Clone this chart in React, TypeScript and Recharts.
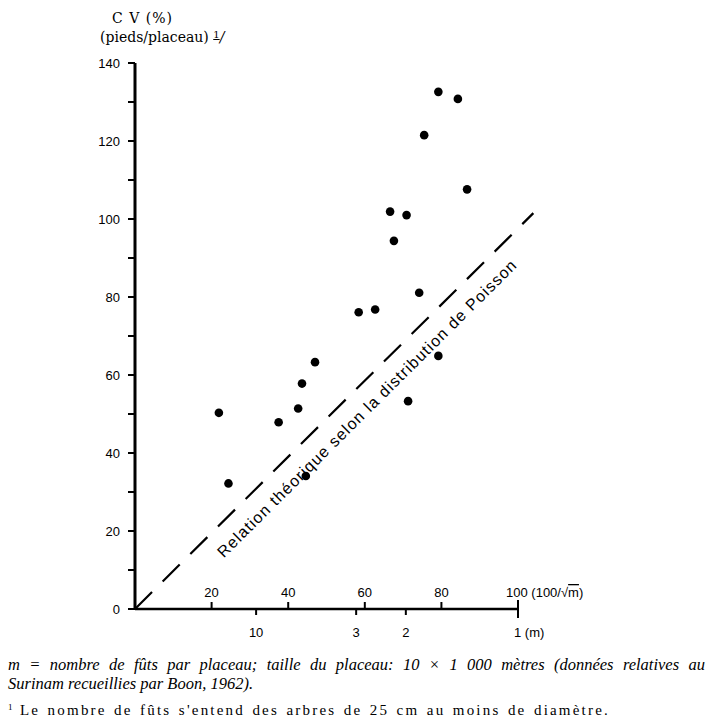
import React from "react";
import { ComposedChart, ReferenceLine, Scatter, XAxis, YAxis } from "recharts";

// coefficient of variation per plot (x = 100/sqrt(m), y = CV %)
const cvX = [21.9, 24.4, 37.5, 42.6, 43.6, 44.6, 47.0, 58.4, 62.7, 66.6, 67.6, 70.9, 71.3, 74.2, 75.5, 79.2, 79.2, 84.3, 86.7];
const cvY = [50.3, 32.2, 47.9, 51.4, 57.8, 34.1, 63.3, 76.1, 76.8, 101.9, 94.4, 101.0, 53.3, 81.1, 121.5, 132.6, 64.9, 130.8, 107.6];

// theoretical Poisson relation, drawn as a dashed segment
const poissonX = [0, 104];
const poissonY = [0, 101.5];

const yTicks = [0, 10, 20, 30, 40, 50, 60, 70, 80, 90, 100, 110, 120, 130, 140];
const upperTicks = [20, 40, 60, 80, 100];
const upperLabels = ["20", "40", "60", "80", "100"];
const mTicks = [31.62, 57.74, 70.71, 100];
const mLabels = ["10", "3", "2", "1 (m)"];

const allTicks = Array.from(new Set([...upperTicks, ...mTicks])).sort((a, b) => a - b);

const points = cvX.map((x, i) => ({ x, y: cvY[i] }));

const tickFont = "'Liberation Sans', Arial, sans-serif";
const serifFont = "'Liberation Serif', 'Times New Roman', serif";

const XTick = (props: any) => {
  const { x, y, payload } = props;
  const v = payload.value;
  const ui = upperTicks.indexOf(v);
  const mi = mTicks.indexOf(v);
  const isEnd = ui >= 0 && mi >= 0;
  return (
    <g>
      {ui >= 0 && <line x1={x} x2={x} y1={y} y2={y - (isEnd ? 9 : 7)} stroke="#000" strokeWidth={2} />}
      {mi >= 0 && <line x1={x} x2={x} y1={y} y2={y + (isEnd ? 9 : 6)} stroke="#000" strokeWidth={2} />}
      {ui >= 0 &&
        (isEnd ? (
          <text x={x - 12} y={y - 12} fontSize={13} fontFamily={tickFont} fill="#000">
            {upperLabels[ui]} (100/√
            <tspan style={{ textDecoration: "overline" }}>m</tspan>)
          </text>
        ) : (
          <text x={x} y={y - 12} textAnchor="middle" fontSize={13} fontFamily={tickFont} fill="#000">
            {upperLabels[ui]}
          </text>
        ))}
      {mi >= 0 && (
        <text
          x={isEnd ? x - 4 : x}
          y={y + 28}
          textAnchor={isEnd ? "start" : "middle"}
          fontSize={13}
          fontFamily={tickFont}
          fill="#000"
        >
          {mLabels[mi]}
        </text>
      )}
    </g>
  );
};

const PoissonLabel = (props: any) => {
  const vb = props.viewBox;
  if (!vb) return null;
  const t = 0.544;
  const cx = vb.x + t * vb.width + 15;
  const cy = vb.y + vb.height - t * vb.height + 15;
  const angle = (-Math.atan2(vb.height, vb.width) * 180) / Math.PI;
  return (
    <text
      x={cx}
      y={cy}
      textAnchor="middle"
      dominantBaseline="central"
      transform={`rotate(${angle} ${cx} ${cy})`}
      fontSize={16}
      fontFamily={tickFont}
      textLength={414}
      lengthAdjust="spacing"
      fill="#000"
    >
      Relation théorique selon la distribution de Poisson
    </text>
  );
};

const Dot = (props: any) => <circle cx={props.cx} cy={props.cy} r={4.3} fill="#000" />;

export default function App() {
  return (
    <div
      style={{
        position: "absolute",
        left: 0,
        top: 0,
        width: 711,
        height: 728,
        background: "#fff",
        color: "#000",
      }}
    >
      <div
        style={{
          position: "absolute",
          left: 112,
          top: 10,
          fontFamily: "'DejaVu Serif', serif",
          fontSize: 14,
          letterSpacing: 1,
          whiteSpace: "nowrap",
        }}
      >
        C V (%)
      </div>
      <div
        style={{
          position: "absolute",
          left: 100,
          top: 29,
          fontFamily: "'DejaVu Serif', serif",
          fontSize: 14,
          whiteSpace: "nowrap",
        }}
      >
        (pieds/placeau){" "}
        <span style={{ textDecoration: "underline", fontSize: 10, verticalAlign: "4px" }}>1</span>
        <span style={{ fontStyle: "italic" }}>/</span>
      </div>

      <ComposedChart
        width={711}
        height={650}
        data={points}
        margin={{ top: 63, right: 170, bottom: 11, left: 75 }}
      >
        <XAxis
          type="number"
          dataKey="x"
          domain={[0, 106]}
          ticks={allTicks}
          interval={0}
          axisLine={false}
          tickLine={false}
          tickSize={0}
          tickMargin={0}
          height={30}
          tick={<XTick />}
        />
        <YAxis
          type="number"
          dataKey="y"
          domain={[0, 140]}
          ticks={yTicks}
          interval={0}
          width={60}
          tickSize={7}
          tickMargin={8}
          axisLine={{ stroke: "#000", strokeWidth: 3 }}
          tickLine={{ stroke: "#000", strokeWidth: 2 }}
          tick={{ fill: "#000", fontSize: 13, fontFamily: tickFont }}
          tickFormatter={(v: number) => (v % 20 === 0 ? String(v) : "")}
        />
        <ReferenceLine
          segment={[
            { x: 0, y: 0 },
            { x: 100, y: 0 },
          ]}
          stroke="#000"
          strokeWidth={2.5}
        />
        <ReferenceLine
          segment={[
            { x: poissonX[0], y: poissonY[0] },
            { x: poissonX[1], y: poissonY[1] },
          ]}
          stroke="#000"
          strokeWidth={2.2}
          strokeDasharray="24 15"
          label={<PoissonLabel />}
        />
        <Scatter data={points} dataKey="y" shape={<Dot />} isAnimationActive={false} />
      </ComposedChart>

      <div
        style={{
          position: "absolute",
          left: 8,
          top: 655,
          width: 697,
          fontFamily: serifFont,
          fontStyle: "italic",
          fontSize: 16.5,
          lineHeight: "19px",
        }}
      >
        <div style={{ textAlign: "justify", textAlignLast: "justify", whiteSpace: "nowrap" }}>
          m = nombre de fûts par placeau; taille du placeau: 10 × 1 000 mètres (données relatives au
        </div>
        <div style={{ whiteSpace: "nowrap" }}>Surinam recueillies par Boon, 1962).</div>
      </div>
      <div
        style={{
          position: "absolute",
          left: 8,
          top: 702,
          fontFamily: serifFont,
          fontSize: 15,
          letterSpacing: 2.2,
          wordSpacing: 1.5,
          whiteSpace: "nowrap",
        }}
      >
        <span style={{ fontSize: 9, verticalAlign: "5px", letterSpacing: 0 }}>1</span> Le nombre de fûts s'entend des
        arbres de 25 cm au moins de diamètre.
      </div>
    </div>
  );
}
